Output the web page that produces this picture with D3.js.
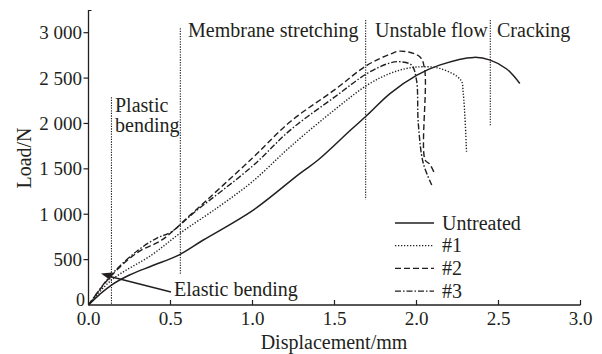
<!DOCTYPE html>
<html>
<head>
<meta charset="utf-8">
<script src="https://cdn.jsdelivr.net/npm/d3@7"></script>
<style>
  body { margin: 0; background: #fff; }
  text { font-family: "Liberation Serif", "Times New Roman", serif; fill: #231f20; }
</style>
</head>
<body>
<div id="chart"></div>
<script>
const width = 602;
const height = 354;

const xTicks = [0, 0.5, 1.0, 1.5, 2.0, 2.5, 3.0];
const yTicks = [0, 500, 1000, 1500, 2000, 2500, 3000];
const yTickLabels = ["0", "500", "1 000", "1 500", "2 000", "2 500", "3 000"];

// [displacement mm, load N]
const untreated = [[0,0],[0.07,120],[0.14,220],[0.25,330],[0.385,430],[0.55,550],[0.7,716],[1.0,1040],[1.29,1451],[1.4,1597],[1.6,1930],[1.7,2093],[1.84,2332],[2.0,2530],[2.14,2643],[2.35,2728],[2.45,2698],[2.55,2600],[2.63,2440]];
const s1 = [[0,0],[0.14,275],[0.385,551],[0.56,793],[0.8,1090],[1.0,1360],[1.23,1743],[1.5,2150],[1.7,2423],[1.84,2552],[1.98,2618],[2.14,2607],[2.27,2478],[2.285,2335],[2.305,1688]];
const s2 = [[0,0],[0.14,325],[0.3,580],[0.45,720],[0.62,990],[1.0,1620],[1.23,2019],[1.5,2370],[1.7,2643],[1.84,2764],[1.9,2797],[2.02,2735],[2.05,2590],[2.052,1600],[2.08,1553],[2.11,1450]];
const s3 = [[0,0],[0.14,335],[0.3,600],[0.42,740],[0.5,800],[0.65,1028],[1.0,1530],[1.23,1927],[1.5,2290],[1.7,2552],[1.84,2668],[1.9,2680],[1.97,2643],[2.0,2478],[2.011,2001],[2.041,1564],[2.093,1322]];

const seriesNames = ["Untreated", "#1", "#2", "#3"];
const seriesData = [untreated, s1, s2, s3];
const dashes = [null, "1.3,1.7", "6,3", "6,2,1.5,2"];

// stage boundaries: x, top load, bottom load
const stageLines = [[0.14, 2290, 0], [0.56, 3050, 330], [1.69, 3140, 1160], [2.45, 3140, 1980]];

const x = d3.scaleLinear().domain([0, 3]).range([88.5, 580.5]);
const y = d3.scaleLinear().domain([0, 3000]).range([305, 32.7]);

const svg = d3.select("#chart").append("svg")
  .attr("width", width)
  .attr("height", height);

const ink = "#231f20";

// axes
svg.append("line").attr("x1", x(0)).attr("x2", x(3)).attr("y1", y(0)).attr("y2", y(0))
  .attr("stroke", ink).attr("stroke-width", 1.3);
svg.append("line").attr("x1", x(0)).attr("x2", x(0)).attr("y1", y(0)).attr("y2", 10)
  .attr("stroke", ink).attr("stroke-width", 1.3);
svg.append("line").attr("x1", x(0)).attr("x2", x(0) + 3).attr("y1", 10.5).attr("y2", 10.5)
  .attr("stroke", ink).attr("stroke-width", 1);

svg.selectAll(".xtick").data(xTicks.slice(1)).enter().append("line")
  .attr("x1", d => x(d)).attr("x2", d => x(d))
  .attr("y1", y(0)).attr("y2", y(0) - 5)
  .attr("stroke", ink).attr("stroke-width", 1.2);

svg.selectAll(".xlab").data(xTicks).enter().append("text")
  .attr("x", d => x(d)).attr("y", 325)
  .attr("text-anchor", "middle").style("font-size", "19px")
  .text(d => d.toFixed(1));

svg.selectAll(".ytick").data(yTicks.slice(1)).enter().append("line")
  .attr("x1", x(0) - 5).attr("x2", x(0))
  .attr("y1", d => y(d)).attr("y2", d => y(d))
  .attr("stroke", ink).attr("stroke-width", 1.2);

svg.selectAll(".ylab").data(yTicks).enter().append("text")
  .attr("x", d => d === 0 ? 85 : 82).attr("y", d => y(d) + (d === 0 ? 1 : 6.5))
  .attr("text-anchor", "end").style("font-size", d => d === 0 ? "18px" : "19px")
  .text((d, i) => yTickLabels[i]);

svg.append("text").attr("x", 334).attr("y", 349)
  .attr("text-anchor", "middle").style("font-size", "20px")
  .text("Displacement/mm");

svg.append("text")
  .attr("transform", "translate(31,158) rotate(-90)")
  .attr("text-anchor", "middle").style("font-size", "20px")
  .text("Load/N");

// stage lines
svg.selectAll(".stage").data(stageLines).enter().append("line")
  .attr("x1", d => x(d[0])).attr("x2", d => x(d[0]))
  .attr("y1", d => y(d[1])).attr("y2", d => y(d[2]))
  .attr("stroke", ink).attr("stroke-width", 1.1)
  .attr("stroke-dasharray", "1.3,1.3");

const stageText = [["Plastic", 115, 112], ["bending", 115, 132], ["Membrane stretching", 188, 37],
  ["Unstable flow", 375, 37], ["Cracking", 497, 37]];
svg.selectAll(".stext").data(stageText).enter().append("text")
  .attr("x", d => d[1]).attr("y", d => d[2])
  .style("font-size", "20px")
  .text(d => d[0]);

// curves
const line = d3.line()
  .x(d => x(d[0])).y(d => y(d[1]))
  .curve(d3.curveCatmullRom.alpha(0.5));

svg.selectAll(".curve").data(seriesData).enter().append("path")
  .attr("d", line)
  .attr("fill", "none")
  .attr("stroke", ink)
  .attr("stroke-width", (d, i) => i === 0 ? 1.5 : 1.4)
  .attr("stroke-dasharray", (d, i) => dashes[i]);

// elastic bending arrow
svg.append("line").attr("x1", 171).attr("y1", 292).attr("x2", 108).attr("y2", 276)
  .attr("stroke", ink).attr("stroke-width", 1.3);
svg.append("path").attr("d", "M101,273.5 L112,272.5 L110,280 Z").attr("fill", ink);
svg.append("text").attr("x", 174).attr("y", 296).style("font-size", "20px").text("Elastic bending");

// legend
const legend = svg.selectAll(".legend").data(seriesNames).enter().append("g")
  .attr("transform", (d, i) => `translate(0,${223 + i * 22.7})`);
legend.append("line").attr("x1", 395).attr("x2", 434).attr("y1", 0).attr("y2", 0)
  .attr("stroke", ink).attr("stroke-width", 1.3)
  .attr("stroke-dasharray", (d, i) => dashes[i]);
legend.append("text").attr("x", 442).attr("y", 6.5)
  .style("font-size", "20px").text(d => d);
</script>
</body>
</html>
